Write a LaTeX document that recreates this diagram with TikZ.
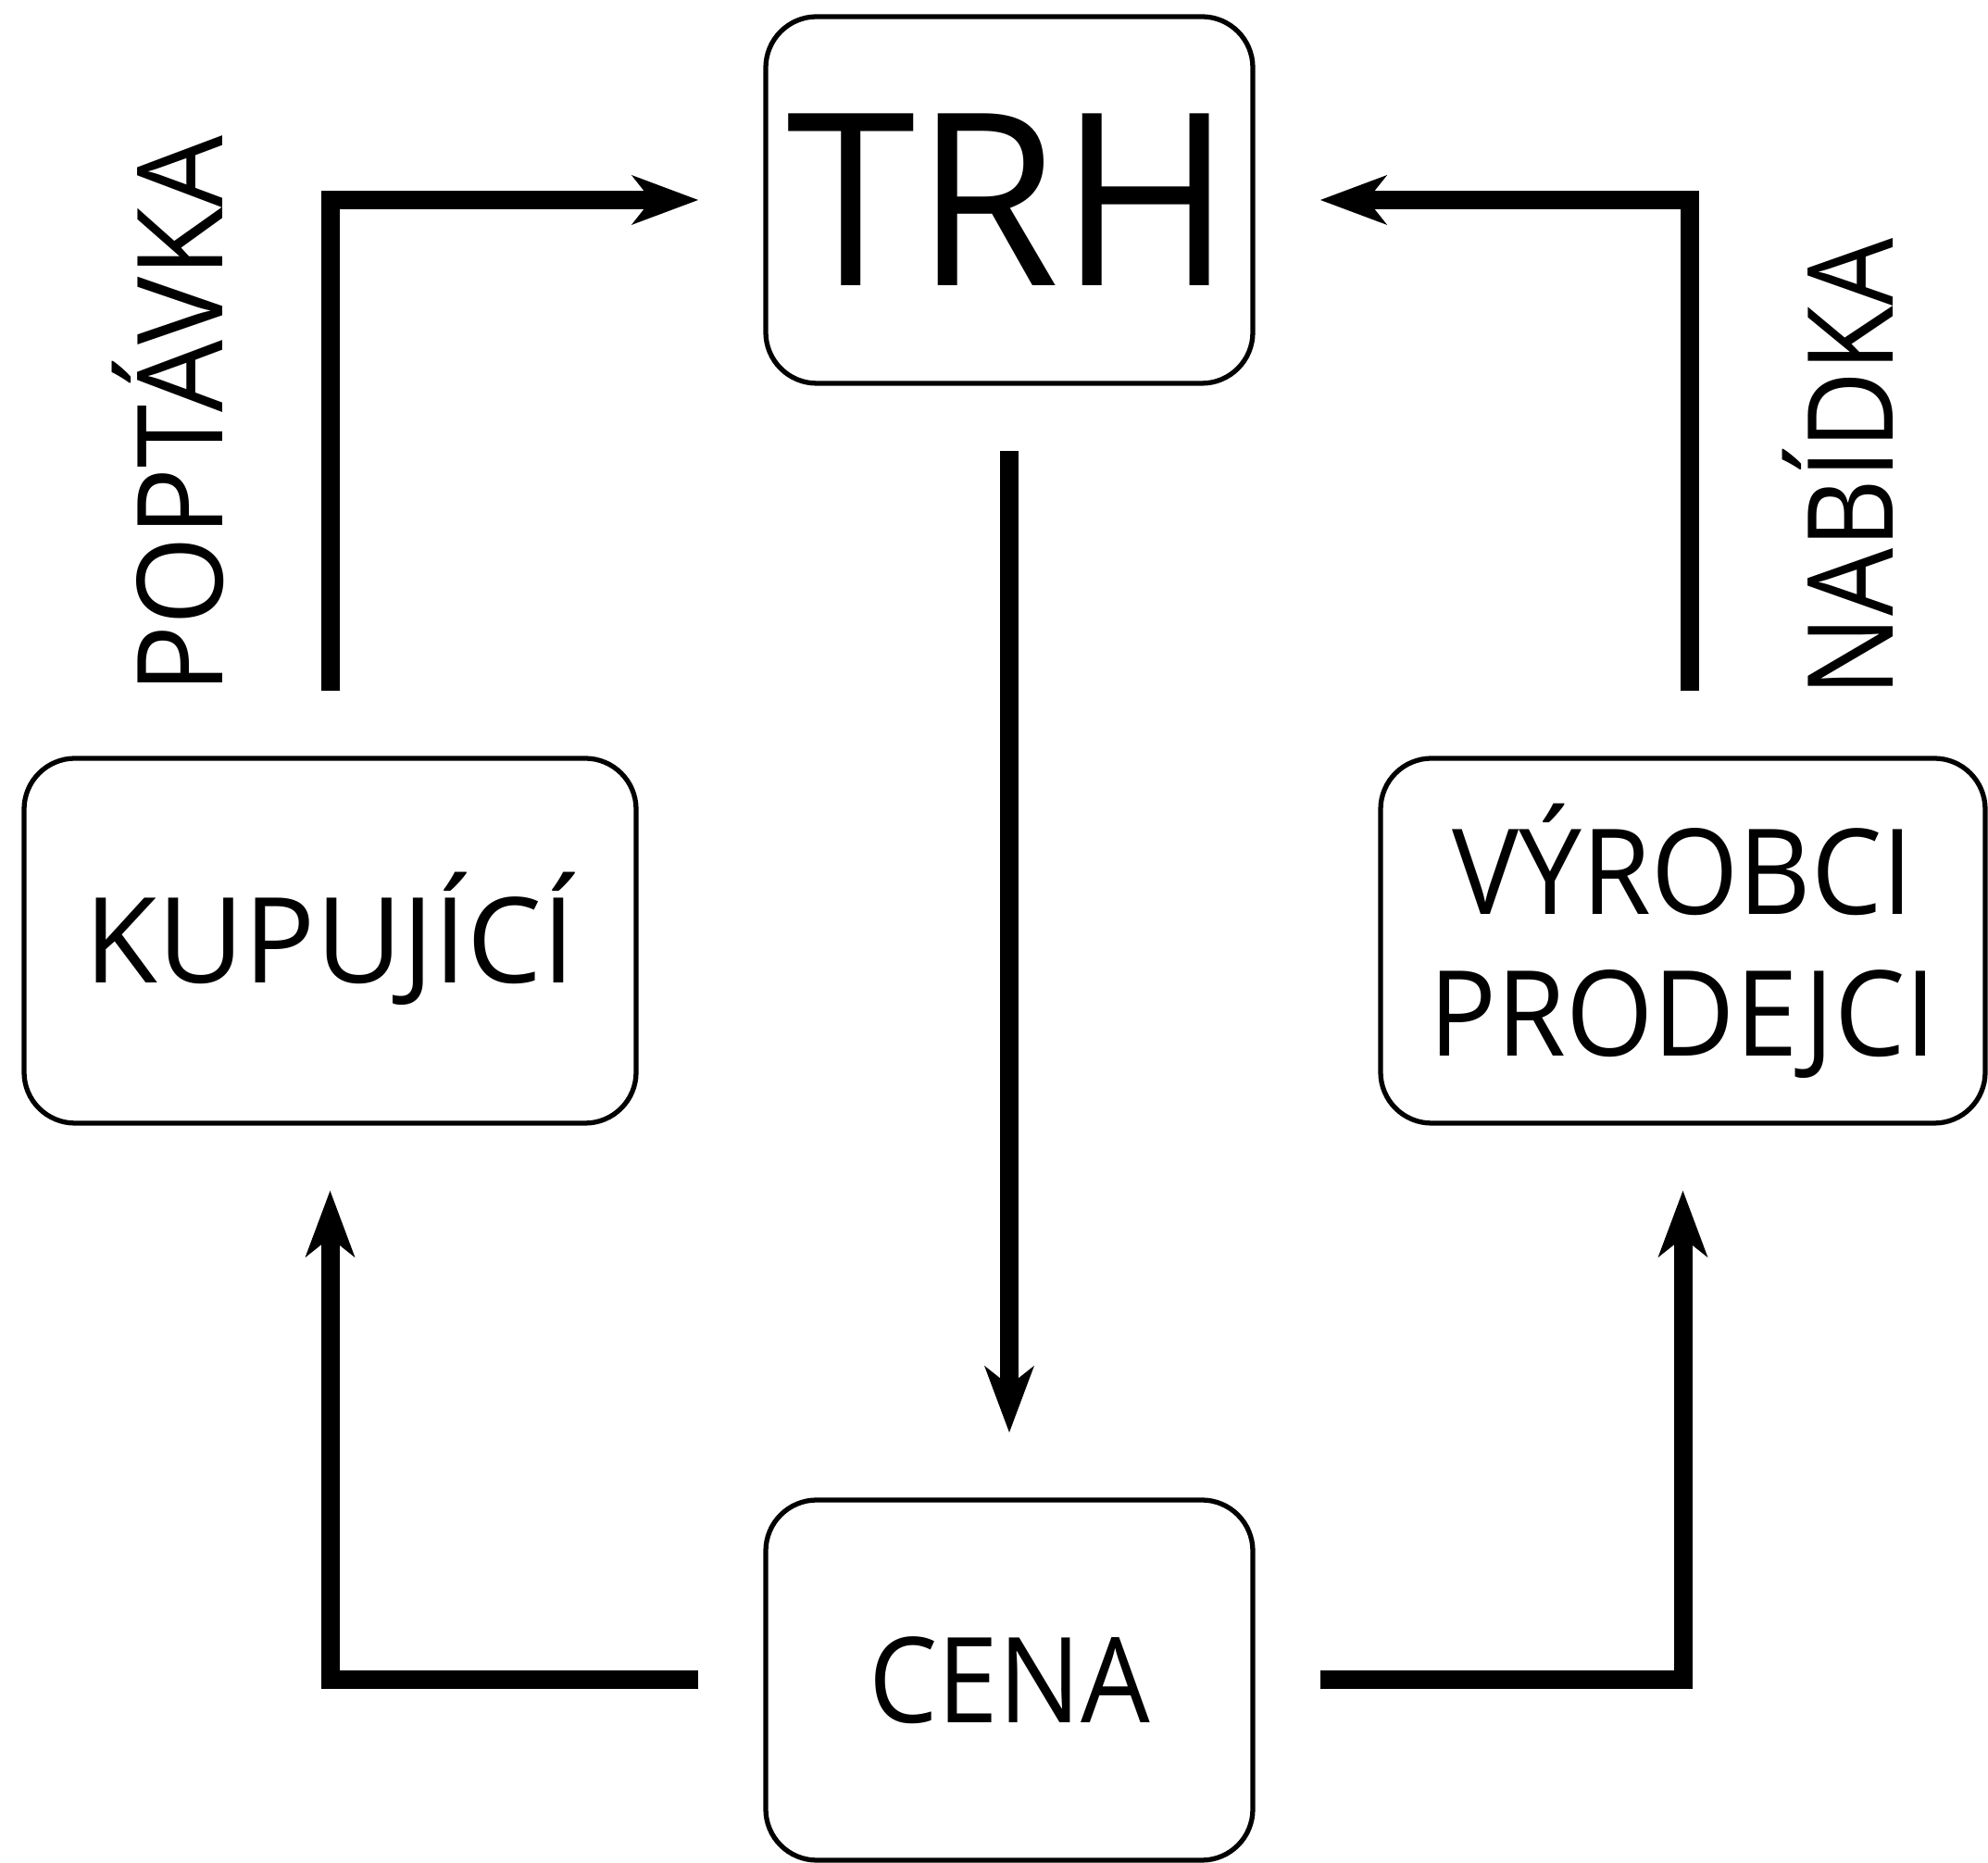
\documentclass[tikz,border=0pt]{standalone}
\usepackage{fontspec}
\setmainfont{Open Sans}
\usetikzlibrary{arrows.meta}
\newcommand\lblfont[1]{\fontsize{36.5}{43.5}\selectfont\addfontfeature{FakeStretch=#1}}
\tikzset{
  box/.style={draw, line width=1.5pt, rounded corners=0.55cm, align=center,
    font=\fontsize{36.5}{43.5}\selectfont},
  flow/.style={line width=0.2cm,
    -{Stealth[length=0.71cm,width=0.52cm,inset=0.2cm]}},
  side/.style={rotate=90, anchor=base}
}
\begin{document}
\begin{tikzpicture}
      \useasboundingbox (0,0) rectangle (21.47,20.12);
      \node[box, minimum width=5.26cm, minimum height=3.96cm,
        font=\fontsize{74}{80}\selectfont\addfontfeature{FakeStretch=0.97}] (trh) at (10.90,17.96) {TRH};
      \node[box, minimum width=6.61cm, minimum height=3.94cm,
        text height=0.92cm, text depth=0pt] (kup) at (3.565,9.96) {KUPUJÍCÍ};
      \node[box, minimum width=6.53cm, minimum height=3.94cm,
        font=\lblfont{0.945}] (vyr) at (18.175,9.96)
        {VÝROBCI\\PRODEJCI};
      \node[box, minimum width=5.26cm, minimum height=3.89cm,
        font=\lblfont{0.92}] (cena) at (10.90,1.975) {CENA};
      \node[side, font=\lblfont{0.96}] (poptavka) at (2.40,15.64) {POPTÁVKA};
      \node[side, font=\lblfont{0.9}] (nabidka) at (20.44,15.07) {NABÍDKA};
      \begin{scope}[flow]
        \draw ([yshift=0.7cm]kup.north) |- ([xshift=-0.7cm]trh.west);
        \draw ([xshift=0.07cm,yshift=0.7cm]vyr.north) |- ([xshift=0.7cm]trh.east);
        \draw ([yshift=-0.7cm]trh.south) -- ([yshift=0.7cm]cena.north);
        \draw ([xshift=-0.7cm]cena.west) -| ([yshift=-0.7cm]kup.south);
        \draw ([xshift=0.7cm]cena.east) -| ([yshift=-0.7cm]vyr.south);
      \end{scope}
    \end{tikzpicture}
\end{document}
